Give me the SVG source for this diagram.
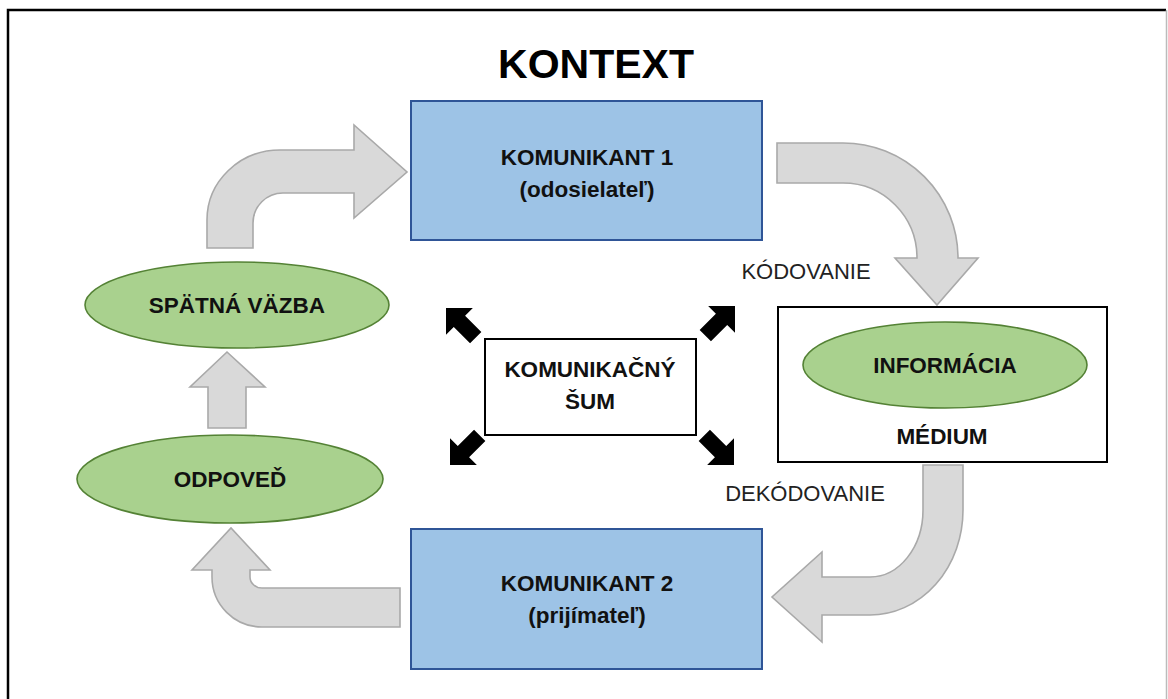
<svg xmlns="http://www.w3.org/2000/svg" width="1168" height="699" viewBox="0 0 1168 699">
<defs>
<style>
.frame{fill:none;stroke:#000;stroke-width:2.5}
.box{fill:#9DC3E6;stroke:#2F5597;stroke-width:2}
.ell{fill:#A9D18E;stroke:#548235;stroke-width:1.6}
.plain{fill:#fff;stroke:#000;stroke-width:2}
.garrow{fill:#D9D9D9;stroke:#A9A9A9;stroke-width:1.6;stroke-linejoin:miter}
.barrow{fill:#000}
.lbl{font-family:"Liberation Sans",Arial,sans-serif;font-weight:bold;font-size:22.5px;fill:#111;text-anchor:middle}
.reg{font-family:"Liberation Sans",Arial,sans-serif;font-size:22px;fill:#222;text-anchor:middle}
.title{font-family:"Liberation Sans",Arial,sans-serif;font-weight:bold;font-size:41px;fill:#000;text-anchor:middle}
</style>
<path id="blk" d="M0,0 L-19,-19 L-19,-8 L-42,-8 L-42,8 L-19,8 L-19,19 Z"/>
</defs>
<rect width="1168" height="699" fill="#fff"/>
<path class="frame" d="M8,705 L8,10 L1166,10"/>
<line x1="1166.5" y1="10" x2="1166.5" y2="705" stroke="#bbb" stroke-width="1.5"/>
<text class="title" x="596" y="78">KONTEXT</text>

<g id="connectors">
<path class="garrow" d="M207,248 L207,220 A73,70 0 0 1 280,150 L354,150 L354,125 L407,172 L354,218 L354,193 L283,193 A30,30 0 0 0 253,223 L253,248 Z"/>
<path class="garrow" d="M777,143 L843,143 A115,115 0 0 1 958,258 L978,258 L937,305 L895,258 L917,258 A74,75 0 0 0 843,183 L777,183 Z"/>
<path class="garrow" d="M923,465 L963,465 L963,510 A93,105 0 0 1 870,615 L822,615 L822,642 L772,597 L822,552 L822,577 L870,577 A53,67 0 0 0 923,510 Z"/>
<path class="garrow" d="M400,588 L262,588 A12,11 0 0 1 250,577 L250,570 L270,570 L231,528 L192,570 L212,570 L212,577 A50,50 0 0 0 262,627 L400,627 Z"/>
<path class="garrow" d="M208,428 L208,387 L190,387 L227,352 L265,387 L246,387 L246,428 Z"/>
<use href="#blk" class="barrow" transform="translate(446,308) rotate(-135)"/>
<use href="#blk" class="barrow" transform="translate(735,306) rotate(-45)"/>
<use href="#blk" class="barrow" transform="translate(450,465) rotate(135)"/>
<use href="#blk" class="barrow" transform="translate(734,465) rotate(45)"/>
<text class="reg" x="806" y="279">KÓDOVANIE</text>
<text class="reg" x="805" y="501">DEKÓDOVANIE</text>
</g>

<g id="komunikant1">
<rect class="box" x="411" y="101" width="351" height="139"/>
<text class="lbl" x="587" y="165">KOMUNIKANT 1</text>
<text class="lbl" x="587" y="197">(odosielateľ)</text>
</g>

<g id="komunikant2">
<rect class="box" x="411" y="529" width="351" height="140"/>
<text class="lbl" x="587" y="591">KOMUNIKANT 2</text>
<text class="lbl" x="587" y="623">(prijímateľ)</text>
</g>

<g id="medium">
<rect class="plain" x="778" y="307" width="329" height="155"/>
<text class="lbl" x="942" y="444">MÉDIUM</text>
</g>

<g id="informacia">
<ellipse class="ell" cx="945" cy="365" rx="142" ry="43"/>
<text class="lbl" x="945" y="373">INFORMÁCIA</text>
</g>

<g id="spatna-vazba">
<ellipse class="ell" cx="237" cy="305" rx="152" ry="43"/>
<text class="lbl" x="237" y="313">SPÄTNÁ VÄZBA</text>
</g>

<g id="odpoved">
<ellipse class="ell" cx="230" cy="479" rx="153" ry="44"/>
<text class="lbl" x="230" y="487">ODPOVEĎ</text>
</g>

<g id="sum">
<rect class="plain" x="485" y="339" width="211" height="96"/>
<text class="lbl" x="590" y="377">KOMUNIKAČNÝ</text>
<text class="lbl" x="590" y="409">ŠUM</text>
</g>
</svg>
